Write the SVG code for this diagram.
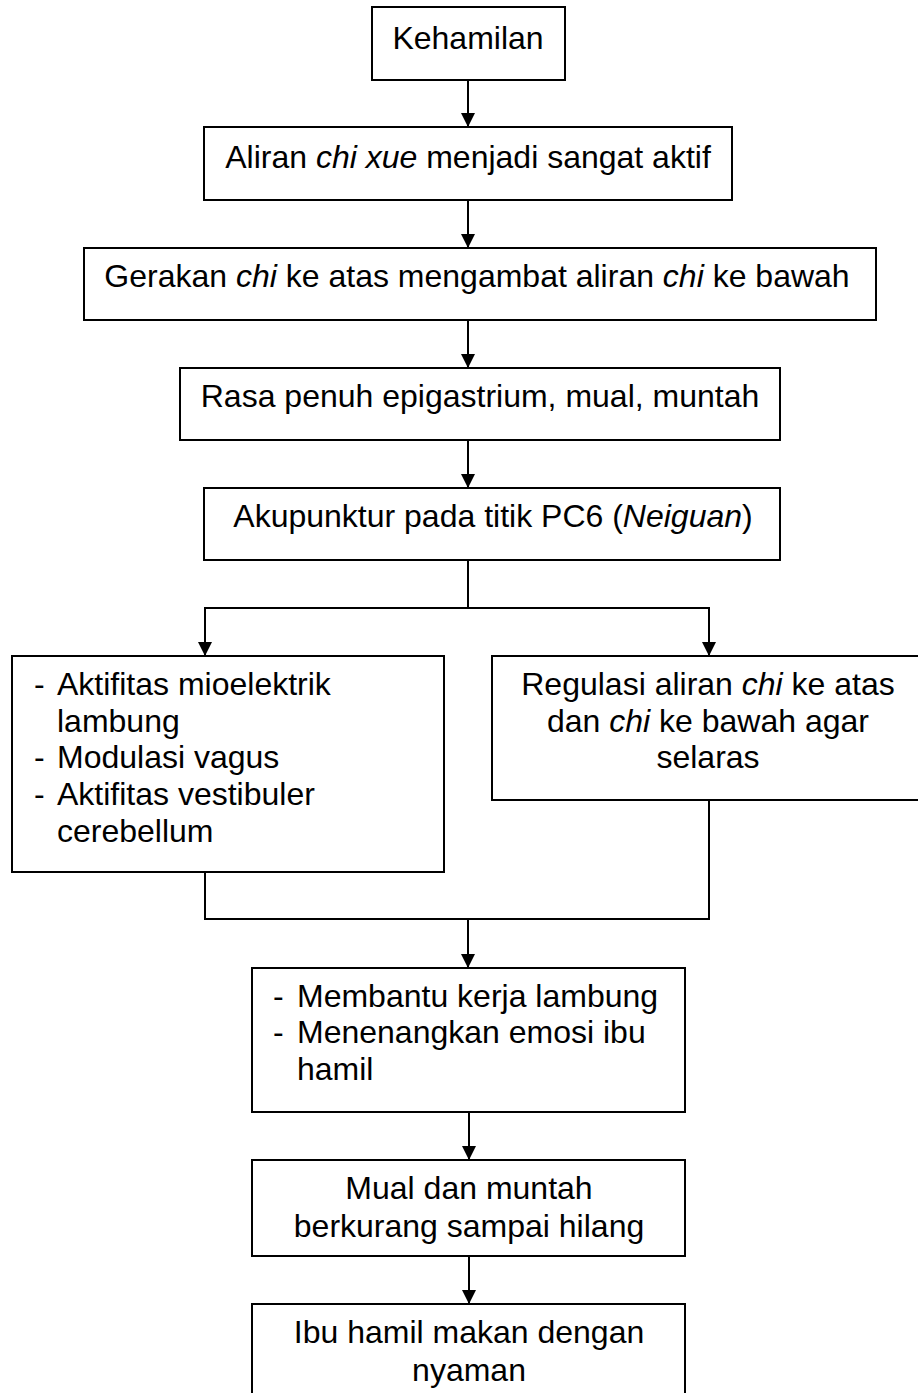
<svg xmlns="http://www.w3.org/2000/svg" width="918" height="1393" viewBox="0 0 918 1393">
<style>
.box{fill:#fff;stroke:#000;stroke-width:2}
.t{font-family:"Liberation Sans",Arial,sans-serif;font-size:32px;fill:#000}
.c{text-anchor:middle}
.conn{fill:none;stroke:#000;stroke-width:2}
</style>
<defs>
<marker id="arr" viewBox="0 0 14 14" refX="14" refY="7" markerWidth="14" markerHeight="14" markerUnits="userSpaceOnUse" orient="auto">
<path d="M0,0 L14,7 L0,14 z" fill="#000"/>
</marker>
</defs>
<rect width="918" height="1393" fill="#fff"/>
<g id="connectors">
<line class="conn" x1="468" y1="80" x2="468" y2="127" marker-end="url(#arr)"/>
<line class="conn" x1="468" y1="200" x2="468" y2="248" marker-end="url(#arr)"/>
<line class="conn" x1="468" y1="320" x2="468" y2="368" marker-end="url(#arr)"/>
<line class="conn" x1="468" y1="440" x2="468" y2="488" marker-end="url(#arr)"/>
<polyline class="conn" points="468,560 468,608 205,608 205,656" marker-end="url(#arr)"/>
<polyline class="conn" points="468,608 709,608 709,656" marker-end="url(#arr)"/>
<polyline class="conn" points="205,872 205,919 709,919 709,800"/>
<line class="conn" x1="468" y1="919" x2="468" y2="968" marker-end="url(#arr)"/>
<line class="conn" x1="469" y1="1112" x2="469" y2="1160" marker-end="url(#arr)"/>
<line class="conn" x1="469" y1="1256" x2="469" y2="1304" marker-end="url(#arr)"/>
</g>
<g id="n1"><rect class="box" x="372" y="7" width="193" height="73"/><text class="t c" x="468" y="49">Kehamilan</text></g>
<g id="n2"><rect class="box" x="204" y="127" width="528" height="73"/><text class="t c" x="468" y="168">Aliran <tspan font-style="italic">chi xue</tspan> menjadi sangat aktif</text></g>
<g id="n3"><rect class="box" x="84" y="248" width="792" height="72"/><text class="t c" x="477" y="287">Gerakan <tspan font-style="italic">chi</tspan> ke atas mengambat aliran <tspan font-style="italic">chi</tspan> ke bawah</text></g>
<g id="n4"><rect class="box" x="180" y="368" width="600" height="72"/><text class="t c" x="480" y="407">Rasa penuh epigastrium, mual, muntah</text></g>
<g id="n5"><rect class="box" x="204" y="488" width="576" height="72"/><text class="t c" x="493" y="527">Akupunktur pada titik PC6 (<tspan font-style="italic">Neiguan</tspan>)</text></g>
<g id="n6"><rect class="box" x="12" y="656" width="432" height="216"/>
<text class="t" x="34" y="695">-</text><text class="t" x="57" y="695">Aktifitas mioelektrik</text>
<text class="t" x="57" y="732">lambung</text>
<text class="t" x="34" y="768">-</text><text class="t" x="57" y="768">Modulasi vagus</text>
<text class="t" x="34" y="805">-</text><text class="t" x="57" y="805">Aktifitas vestibuler</text>
<text class="t" x="57" y="842">cerebellum</text>
</g>
<g id="n7"><rect class="box" x="492" y="656" width="434" height="144"/>
<text class="t c" x="708" y="695">Regulasi aliran <tspan font-style="italic">chi</tspan> ke atas</text>
<text class="t c" x="708" y="732">dan <tspan font-style="italic">chi</tspan> ke bawah agar</text>
<text class="t c" x="708" y="768">selaras</text>
</g>
<g id="n8"><rect class="box" x="252" y="968" width="433" height="144"/>
<text class="t" x="273" y="1007">-</text><text class="t" x="297" y="1007">Membantu kerja lambung</text>
<text class="t" x="273" y="1043">-</text><text class="t" x="297" y="1043">Menenangkan emosi ibu</text>
<text class="t" x="297" y="1080">hamil</text>
</g>
<g id="n9"><rect class="box" x="252" y="1160" width="433" height="96"/>
<text class="t c" x="469" y="1199">Mual dan muntah</text>
<text class="t c" x="469" y="1237">berkurang sampai hilang</text>
</g>
<g id="n10"><rect class="box" x="252" y="1304" width="433" height="110"/>
<text class="t c" x="469" y="1343">Ibu hamil makan dengan</text>
<text class="t c" x="469" y="1381">nyaman</text>
</g>
</svg>
